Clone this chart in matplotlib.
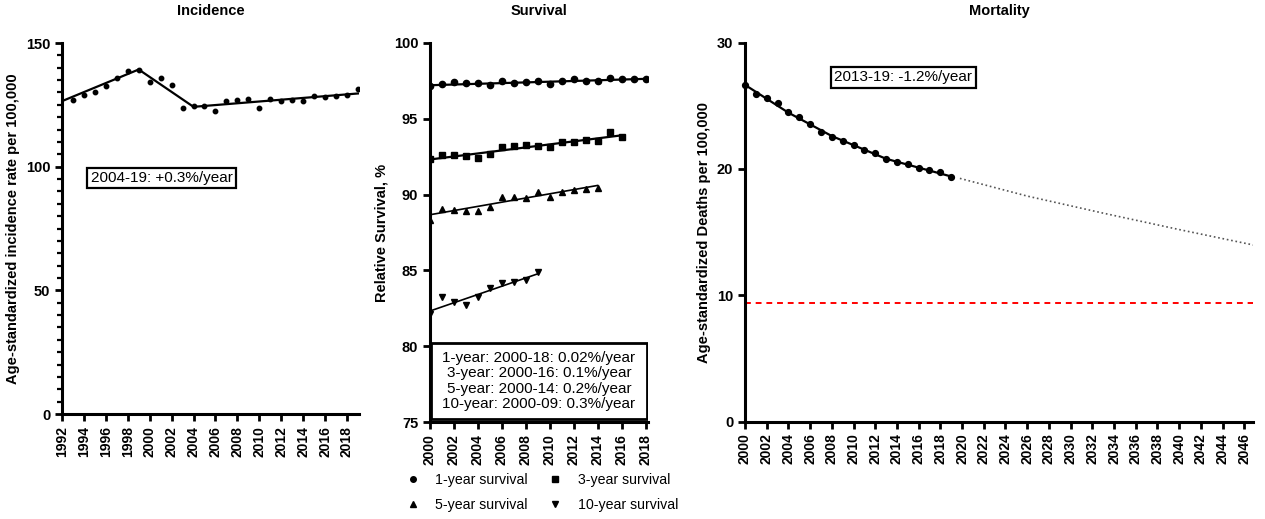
import numpy as np
import matplotlib
matplotlib.use('Agg')
import matplotlib.pyplot as plt
from matplotlib.lines import Line2D
from matplotlib.patches import Rectangle

plt.rcParams['font.family'] = ['Liberation Sans', 'DejaVu Sans']

# Incidence data
inc_years = list(range(1993, 2020))
inc_values = [126.9, 128.9, 130.2, 132.5, 135.8, 138.7, 139.0, 134.2, 136.0, 133.2,
              123.8, 124.7, 124.5, 122.5, 126.5, 127.0, 127.4, 123.9, 127.4, 126.5,
              127.1, 126.5, 128.5, 128.0, 128.7, 128.9, 131.6]
inc_fit_years = [1992, 1999, 2004, 2019]
inc_fit_values = [126.5, 139.3, 124.2, 129.6]

# Survival data
surv1_years = list(range(2000, 2019))
surv1_values = [97.16, 97.29, 97.40, 97.34, 97.34, 97.23, 97.51, 97.36, 97.42, 97.47,
                97.31, 97.51, 97.62, 97.49, 97.45, 97.69, 97.60, 97.60, 97.62]
surv1_fit = [97.2, 97.62]
surv3_years = list(range(2000, 2017))
surv3_values = [92.36, 92.58, 92.60, 92.51, 92.38, 92.69, 93.12, 93.17, 93.25, 93.23,
                93.10, 93.49, 93.47, 93.58, 93.54, 94.10, 93.78]
surv3_fit = [92.31, 93.9]
surv5_years = list(range(2000, 2015))
surv5_values = [88.34, 89.06, 88.97, 88.89, 88.89, 89.21, 89.85, 89.85, 89.78, 90.17,
                89.83, 90.20, 90.31, 90.35, 90.41]
surv5_fit = [88.67, 90.6]
surv10_years = list(range(2000, 2010))
surv10_values = [82.16, 83.22, 82.93, 82.71, 83.22, 83.84, 84.18, 84.27, 84.36, 84.89]
surv10_fit = [82.33, 84.78]
surv_notes = ['1-year: 2000-18: 0.02%/year', '3-year: 2000-16: 0.1%/year',
              '5-year: 2000-14: 0.2%/year', '10-year: 2000-09: 0.3%/year']

# Mortality data
mort_years = list(range(2000, 2020))
mort_values = [26.61, 25.95, 25.58, 25.24, 24.47, 24.11, 23.53, 22.92, 22.55, 22.21,
               21.89, 21.53, 21.26, 20.76, 20.58, 20.37, 20.08, 19.92, 19.76, 19.37]
mort_fit_years = [2000, 2004, 2008, 2013, 2019]
mort_fit_values = [26.65, 24.45, 22.6, 20.8, 19.4]
proj_years = [2019.8, 2026, 2033, 2040, 2047]
proj_values = [19.25, 17.85, 16.5, 15.2, 13.95]
target_value = 9.4

fig = plt.figure(figsize=(12.65, 5.19), dpi=100)
ax1 = fig.add_axes([0.049, 0.2023, 0.2348, 0.7148])
ax2 = fig.add_axes([0.3399, 0.1863, 0.1723, 0.7314])
ax3 = fig.add_axes([0.5889, 0.1875, 0.4016, 0.7306])


def style_axes(ax):
    for side in ['top', 'right']:
        ax.spines[side].set_visible(False)
    for side in ['left', 'bottom']:
        ax.spines[side].set_linewidth(2.2)
    ax.tick_params(width=2, length=5)
    ax.tick_params(axis='y', labelsize=10.5)
    ax.tick_params(axis='x', labelsize=10)
    ax.tick_params(which='minor', width=1.6, length=3.5)
    for lab in ax.get_xticklabels() + ax.get_yticklabels():
        lab.set_fontweight('bold')
    for lab in ax.get_xticklabels():
        lab.set_rotation(90)


# Incidence
ax1.plot(inc_years, inc_values, 'o', color='black', ms=3.2)
ax1.plot(inc_fit_years, inc_fit_values, color='black', lw=1.6)
ax1.set_xlim(1992, 2019.1)
ax1.set_ylim(0, 150)
ax1.set_xticks(range(1992, 2019, 2))
ax1.set_yticks([0, 50, 100, 150])
ax1.set_yticks(np.arange(0, 151, 5), minor=True)
ax1.set_title('Incidence', fontweight='bold', fontsize=10.5, pad=20)
ax1.set_ylabel('Age-standardized incidence rate per 100,000', fontweight='bold', fontsize=10.5)
ax1.text(2001.1, 95.4, '2004-19: +0.3%/year', fontsize=11, ha='center', va='center',
         bbox=dict(boxstyle='square,pad=0.22', fc='white', ec='black', lw=1.6))
style_axes(ax1)

# Survival
ax2.plot(surv1_years, surv1_values, 'o', color='black', ms=4.5)
ax2.plot([2000, 2018], surv1_fit, color='black', lw=1.6)
ax2.plot(surv3_years, surv3_values, 's', color='black', ms=4.5)
ax2.plot([2000, 2016], surv3_fit, color='black', lw=1.6)
ax2.plot(surv5_years, surv5_values, '^', color='black', ms=4.5)
ax2.plot([2000, 2014], surv5_fit, color='black', lw=1.2)
ax2.plot(surv10_years, surv10_values, 'v', color='black', ms=4.5)
ax2.plot([2000, 2009], surv10_fit, color='black', lw=1.2)
ax2.set_xlim(2000, 2018.2)
ax2.set_ylim(75, 100)
ax2.set_xticks(range(2000, 2019, 2))
ax2.set_yticks([75, 80, 85, 90, 95, 100])
ax2.set_title('Survival', fontweight='bold', fontsize=10.5, pad=20)
ax2.set_ylabel('Relative Survival, %', fontweight='bold', fontsize=10.5)
ax2.add_patch(Rectangle((2000.1, 75.2), 18.0, 5.05, fc='white', ec='black', lw=2, zorder=3))
ax2.text(2009.1, 77.72, '\n'.join(surv_notes), fontsize=11, ha='center', va='center',
         linespacing=1.1, zorder=4)
style_axes(ax2)

handles = [Line2D([], [], ls='none', marker='o', color='black', ms=4),
           Line2D([], [], ls='none', marker='^', color='black', ms=4),
           Line2D([], [], ls='none', marker='s', color='black', ms=4),
           Line2D([], [], ls='none', marker='v', color='black', ms=4)]
labels = ['1-year survival', '5-year survival', '3-year survival', '10-year survival']
fig.legend(handles, labels, ncol=2, loc='center', bbox_to_anchor=(541 / 1265, 1 - 492.5 / 519),
           frameon=False, fontsize=10.2, handlelength=1.2, handletextpad=1.0,
           columnspacing=1.3, labelspacing=0.8)

# Mortality
ax3.plot(mort_fit_years, mort_fit_values, color='black', lw=1.6)
ax3.plot(mort_years, mort_values, 'o', color='black', ms=4.2, clip_on=False)
ax3.plot(proj_years, proj_values, ':', color='#555555', lw=1.2)
ax3.axhline(target_value, color='red', ls=(0, (3, 2.5)), lw=1.4)
ax3.set_xlim(2000, 2046.8)
ax3.set_ylim(0, 30)
ax3.set_xticks(range(2000, 2047, 2))
ax3.set_yticks([0, 10, 20, 30])
ax3.set_title('Mortality', fontweight='bold', fontsize=10.5, pad=20)
ax3.set_ylabel('Age-standardized Deaths per 100,000', fontweight='bold', fontsize=10.5)
ax3.text(2014.6, 27.25, '2013-19: -1.2%/year', fontsize=11, ha='center', va='center',
         bbox=dict(boxstyle='square,pad=0.22', fc='white', ec='black', lw=1.6))
style_axes(ax3)

fig.savefig('out.png', dpi=100)
